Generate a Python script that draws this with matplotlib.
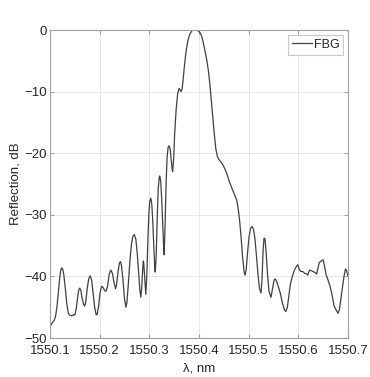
import matplotlib
matplotlib.use("Agg")
import matplotlib.pyplot as plt

plt.rcParams['font.family'] = ['Liberation Sans', 'DejaVu Sans']

# FBG reflection spectrum (wavelength in nm, reflection in dB)
wavelength = [
    1550.100, 1550.104, 1550.108, 1550.111, 1550.114, 1550.117, 1550.120, 1550.122,
    1550.124, 1550.126, 1550.128, 1550.131, 1550.134, 1550.137, 1550.140, 1550.144,
    1550.148, 1550.150, 1550.153, 1550.156, 1550.158, 1550.160, 1550.162, 1550.165,
    1550.168, 1550.170, 1550.172, 1550.175, 1550.178, 1550.181, 1550.184, 1550.187,
    1550.190, 1550.193, 1550.195, 1550.198, 1550.201, 1550.204, 1550.207, 1550.210,
    1550.213, 1550.216, 1550.219, 1550.221, 1550.223, 1550.226, 1550.229, 1550.232,
    1550.234, 1550.237, 1550.240, 1550.242, 1550.244, 1550.247, 1550.250, 1550.253,
    1550.255, 1550.258, 1550.261, 1550.264, 1550.267, 1550.270, 1550.273, 1550.276,
    1550.279, 1550.281, 1550.283, 1550.285, 1550.287, 1550.288, 1550.289, 1550.291,
    1550.293, 1550.295, 1550.297, 1550.299, 1550.301, 1550.303, 1550.305, 1550.307,
    1550.309, 1550.311, 1550.312, 1550.314, 1550.316, 1550.318, 1550.320, 1550.321,
    1550.323, 1550.325, 1550.327, 1550.329, 1550.330, 1550.332, 1550.334, 1550.336,
    1550.338, 1550.340, 1550.342, 1550.344, 1550.346, 1550.347, 1550.349, 1550.351,
    1550.354, 1550.357, 1550.360, 1550.362, 1550.364, 1550.366, 1550.368, 1550.371,
    1550.374, 1550.378, 1550.382, 1550.386, 1550.390, 1550.394, 1550.398, 1550.402,
    1550.405, 1550.408, 1550.412, 1550.416, 1550.419, 1550.422, 1550.425, 1550.428,
    1550.431, 1550.434, 1550.437, 1550.440, 1550.443, 1550.447, 1550.452, 1550.456,
    1550.462, 1550.469, 1550.476, 1550.479, 1550.482, 1550.485, 1550.488, 1550.491,
    1550.493, 1550.495, 1550.498, 1550.501, 1550.504, 1550.507, 1550.510, 1550.513,
    1550.516, 1550.519, 1550.522, 1550.525, 1550.527, 1550.529, 1550.531, 1550.533,
    1550.535, 1550.538, 1550.541, 1550.545, 1550.548, 1550.551, 1550.553, 1550.556,
    1550.560, 1550.564, 1550.568, 1550.572, 1550.575, 1550.578, 1550.581, 1550.584,
    1550.588, 1550.592, 1550.596, 1550.599, 1550.602, 1550.605, 1550.609, 1550.613,
    1550.617, 1550.619, 1550.621, 1550.623, 1550.627, 1550.630, 1550.634, 1550.637,
    1550.640, 1550.642, 1550.646, 1550.650, 1550.653, 1550.656, 1550.660, 1550.664,
    1550.668, 1550.672, 1550.676, 1550.680, 1550.683, 1550.686, 1550.689, 1550.692,
    1550.695, 1550.697, 1550.700,
]
reflection = [
    -48.2, -47.6, -47.2, -46.6, -45.0, -42.5, -40.0, -38.9,
    -38.6, -38.9, -39.8, -42.0, -44.5, -46.0, -46.3, -46.4,
    -46.2, -46.3, -45.2, -43.2, -42.2, -41.9, -42.2, -43.6,
    -44.6, -44.8, -44.2, -42.0, -40.4, -39.9, -40.6, -42.8,
    -45.0, -46.2, -46.2, -44.8, -42.6, -41.6, -41.8, -42.3,
    -42.4, -41.6, -39.8, -39.2, -39.0, -39.6, -41.0, -42.0,
    -41.4, -39.3, -37.8, -37.6, -38.2, -40.5, -43.6, -45.0,
    -44.2, -41.0, -37.5, -34.8, -33.5, -33.2, -34.0, -36.5,
    -40.0, -42.2, -43.4, -41.5, -38.5, -37.5, -38.0, -40.5,
    -42.9, -40.0, -34.5, -30.0, -27.8, -27.3, -28.2, -31.0,
    -35.0, -38.5, -39.3, -36.5, -30.5, -25.8, -23.9, -23.7,
    -24.5, -27.5, -31.5, -35.3, -36.5, -31.0, -24.5, -20.5,
    -19.0, -18.8, -19.3, -21.0, -22.6, -23.0, -21.0, -17.0,
    -13.0, -10.4, -9.5, -9.7, -10.0, -9.6, -8.2, -5.6,
    -3.5, -1.6, -0.6, -0.1, 0.0, 0.0, -0.1, -0.4,
    -0.9, -1.8, -3.3, -5.0, -6.6, -8.8, -11.5, -14.3,
    -17.0, -19.3, -20.5, -21.0, -21.3, -21.7, -22.5, -23.3,
    -24.8, -26.2, -27.6, -29.0, -31.0, -33.8, -37.0, -39.3,
    -39.8, -39.0, -36.0, -33.5, -32.2, -31.9, -32.4, -34.0,
    -36.8, -39.8, -42.0, -42.7, -40.5, -36.0, -33.8, -33.9,
    -35.8, -39.5, -42.4, -43.4, -42.0, -40.7, -40.4, -40.7,
    -41.7, -42.8, -44.3, -45.4, -45.7, -45.0, -43.2, -41.3,
    -40.0, -39.0, -38.4, -38.1, -38.9, -39.2, -39.2, -39.5,
    -39.6, -39.8, -39.3, -39.0, -39.1, -39.2, -39.4, -39.6,
    -38.5, -37.8, -37.5, -37.3, -38.4, -39.7, -40.6, -41.6,
    -43.0, -44.8, -45.4, -46.0, -45.3, -43.5, -41.6, -40.0,
    -38.8, -39.0, -39.9,
]

xticks = [1550.1, 1550.2, 1550.3, 1550.4, 1550.5, 1550.6, 1550.7]
yticks = [-50, -40, -30, -20, -10, 0]

text_col = '#262626'
fig = plt.figure(figsize=(3.7, 3.77), dpi=100)
ax = fig.add_axes([0.135, 0.1034, 0.8054, 0.817])

ax.plot(wavelength, reflection, color='#404040', lw=0.9, label='FBG')

ax.set_xlim(1550.1, 1550.7)
ax.set_ylim(-50, 0)
ax.set_xticks(xticks)
ax.set_xticklabels([f'{t:.1f}' for t in xticks])
ax.set_yticks(yticks)
ax.grid(True, color='#e8e8e8', lw=0.7)
ax.tick_params(direction='in', top=True, right=True, length=3,
               color='#a0a0a0', labelsize=9.5, labelcolor=text_col)
ax.tick_params(axis='x', pad=5)
ax.tick_params(axis='y', pad=2)
for s in ax.spines.values():
    s.set_color('#a0a0a0')
    s.set_linewidth(0.8)

ax.set_xlabel('λ, nm', fontsize=9.5, color=text_col, labelpad=4)
ax.set_ylabel('Reflection, dB', fontsize=9.5, color=text_col, labelpad=2)

leg = ax.legend(loc='upper right', fontsize=9, frameon=True, fancybox=False,
                handlelength=1.6, handletextpad=0.15, borderpad=0.3,
                borderaxespad=0.4)
leg.get_frame().set_edgecolor('#bdbdbd')
leg.get_frame().set_linewidth(0.8)
for t in leg.get_texts():
    t.set_color(text_col)

fig.savefig('out.png', dpi=100)
